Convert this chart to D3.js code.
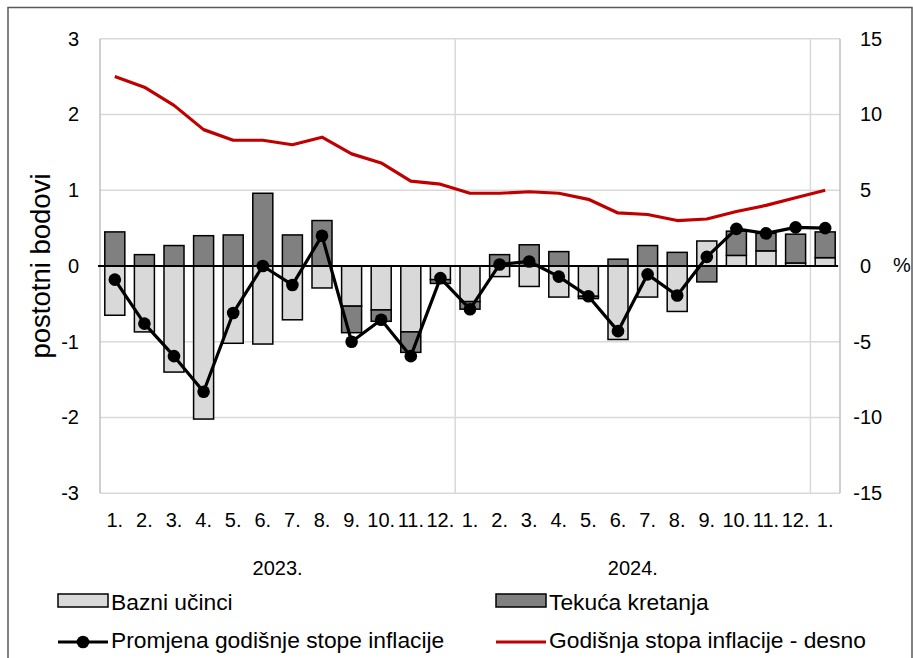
<!DOCTYPE html>
<html>
<head>
<meta charset="utf-8">
<script src="https://cdn.jsdelivr.net/npm/d3@7"></script>
<style>
  body { margin: 0; background: #fff; }
  text { font-family: "Liberation Sans", Arial, sans-serif; fill: #000; }
</style>
</head>
<body>
<div id="chart"></div>
<script>
// months (1.2023 - 1.2025)
var months = ["1.","2.","3.","4.","5.","6.","7.","8.","9.","10.","11.","12.",
              "1.","2.","3.","4.","5.","6.","7.","8.","9.","10.","11.","12.","1."];
var years = ["2023.", "2024."];

// postotni bodovi
var bazni = [-0.65, -0.87, -1.40, -2.02, -1.02, -1.03, -0.71, -0.29, -0.53, -0.58, -0.87, -0.18,
             -0.47, -0.14, -0.27, -0.41, -0.40, -0.97, -0.41, -0.60, 0.33, 0.14, 0.20, 0.04, 0.11];
var tekuca = [0.45, 0.15, 0.27, 0.40, 0.41, 0.96, 0.41, 0.60, -0.35, -0.15, -0.27, -0.05,
              -0.10, 0.15, 0.28, 0.19, -0.03, 0.09, 0.27, 0.18, -0.21, 0.32, 0.23, 0.38, 0.34];
var promjena = [-0.18, -0.76, -1.19, -1.66, -0.62, 0.00, -0.25, 0.40, -1.00, -0.71, -1.19, -0.16,
                -0.57, 0.02, 0.06, -0.14, -0.40, -0.86, -0.11, -0.39, 0.12, 0.49, 0.43, 0.51, 0.50];
// %, desno
var inflacija = [12.5, 11.8, 10.6, 9.0, 8.3, 8.3, 8.0, 8.5, 7.4, 6.8, 5.6, 5.4,
                 4.8, 4.8, 4.9, 4.8, 4.4, 3.5, 3.4, 3.0, 3.1, 3.6, 4.0, 4.5, 5.0];

var leftTicks = [-3, -2, -1, 0, 1, 2, 3];
var rightTicks = [-15, -10, -5, 0, 5, 10, 15];

var width = 913,
    height = 658;

var svg = d3.select("#chart").append("svg")
    .attr("width", width)
    .attr("height", height);

var plotLeft = 100, plotRight = 840, plotTop = 38.7, plotBottom = 493.3;

var x = d3.scaleBand()
    .domain(d3.range(months.length))
    .range([plotLeft, plotRight])
    .paddingInner(0.324)
    .paddingOuter(0.162);

var y = d3.scaleLinear().domain([-3, 3]).range([plotBottom, plotTop]);
var y2 = d3.scaleLinear().domain([-15, 15]).range([plotBottom, plotTop]);

// outer frame
svg.append("rect")
    .attr("x", 8).attr("y", 7.5)
    .attr("width", 904).attr("height", 700)
    .attr("fill", "none")
    .attr("stroke", "#595959")
    .attr("stroke-width", 1.5);

// gridlines
svg.append("g").selectAll("line")
    .data(leftTicks)
    .enter().append("line")
    .attr("x1", plotLeft).attr("x2", plotRight)
    .attr("y1", function(d) { return y(d); })
    .attr("y2", function(d) { return y(d); })
    .attr("stroke", "#d9d9d9")
    .attr("stroke-width", 1.5);

var step = x.step();
svg.append("g").selectAll("line")
    .data([0, 12, 24, 25])
    .enter().append("line")
    .attr("x1", function(d) { return plotLeft + d * step; })
    .attr("x2", function(d) { return plotLeft + d * step; })
    .attr("y1", plotTop).attr("y2", plotBottom)
    .attr("stroke", function(d) { return (d == 0 || d == 25) ? "#bfbfbf" : "#d9d9d9"; })
    .attr("stroke-width", 1.5);

// stacked bars
var rows = months.map(function(m, i) { return { i: i, bazni: bazni[i], tekuca: tekuca[i] }; });
var stack = d3.stack()
    .keys(["bazni", "tekuca"])
    .offset(d3.stackOffsetDiverging);
var series = stack(rows);
var fills = { bazni: "#d9d9d9", tekuca: "#808080" };

svg.append("g").selectAll("g")
    .data(series)
    .enter().append("g")
    .attr("fill", function(d) { return fills[d.key]; })
    .selectAll("rect")
    .data(function(d) { return d; })
    .enter().append("rect")
    .attr("x", function(d) { return x(d.data.i); })
    .attr("width", x.bandwidth())
    .attr("y", function(d) { return y(Math.max(d[0], d[1])); })
    .attr("height", function(d) { return Math.abs(y(d[0]) - y(d[1])); })
    .attr("stroke", "#000")
    .attr("stroke-width", 1.5);

// zero line
svg.append("line")
    .attr("x1", plotLeft - 2).attr("x2", plotRight - 2)
    .attr("y1", y(0)).attr("y2", y(0))
    .attr("stroke", "#000")
    .attr("stroke-width", 2.2);

// red line - annual inflation (right axis)
var redLine = d3.line()
    .x(function(d, i) { return x(i) + x.bandwidth() / 2; })
    .y(function(d) { return y2(d); });

svg.append("path")
    .datum(inflacija)
    .attr("d", redLine)
    .attr("fill", "none")
    .attr("stroke", "#c00000")
    .attr("stroke-width", 3.2)
    .attr("stroke-linejoin", "round");

// black line with markers
var blackLine = d3.line()
    .x(function(d, i) { return x(i) + x.bandwidth() / 2; })
    .y(function(d) { return y(d); });

svg.append("path")
    .datum(promjena)
    .attr("d", blackLine)
    .attr("fill", "none")
    .attr("stroke", "#000")
    .attr("stroke-width", 3.2)
    .attr("stroke-linejoin", "round");

svg.append("g").selectAll("circle")
    .data(promjena)
    .enter().append("circle")
    .attr("cx", function(d, i) { return x(i) + x.bandwidth() / 2; })
    .attr("cy", function(d) { return y(d); })
    .attr("r", 6.3)
    .attr("fill", "#000");

// left axis
var yAxis = d3.axisLeft(y)
    .tickValues(leftTicks)
    .tickSize(0)
    .tickPadding(21)
    .tickFormat(function(d) { return String(d); });

svg.append("g")
    .attr("transform", "translate(" + plotLeft + ",0)")
    .call(yAxis)
    .call(function(g) { g.select(".domain").remove(); })
    .selectAll("text")
    .style("font-family", "'Liberation Sans', Arial, sans-serif")
    .style("font-size", "20px")
    .attr("fill", "#000");

// right axis, digits aligned, minus hanging left
var y2Axis = d3.axisRight(y2)
    .tickValues(rightTicks)
    .tickSize(0)
    .tickPadding(20)
    .tickFormat(function(d) { return String(d); });

var rAxis = svg.append("g")
    .attr("transform", "translate(" + plotRight + ",0)")
    .call(y2Axis)
    .call(function(g) { g.select(".domain").remove(); });

rAxis.selectAll("text")
    .style("font-family", "'Liberation Sans', Arial, sans-serif")
    .style("font-size", "20px")
    .attr("fill", "#000");

var probe = rAxis.append("text")
    .style("font-family", "'Liberation Sans', Arial, sans-serif")
    .style("font-size", "20px")
    .text("-");
var minusW = probe.node().getComputedTextLength();
probe.remove();

rAxis.selectAll(".tick text")
    .attr("x", function(d) { return d < 0 ? 20 - minusW : 20; });

svg.append("text")
    .attr("x", 893)
    .attr("y", y(0))
    .attr("dy", "0.32em")
    .style("font-size", "20px")
    .text("%");

// x axis labels
var xAxis = d3.axisBottom(x)
    .tickSize(0)
    .tickPadding(0)
    .tickFormat(function(i) { return months[i]; });

svg.append("g")
    .attr("transform", "translate(0,513)")
    .call(xAxis)
    .call(function(g) { g.select(".domain").remove(); })
    .selectAll("text")
    .attr("dy", "0.71em")
    .style("font-family", "'Liberation Sans', Arial, sans-serif")
    .style("font-size", "20px")
    .attr("fill", "#000");

svg.append("g").selectAll("text")
    .data(years)
    .enter().append("text")
    .attr("x", function(d, i) { return plotLeft + (i * 12 + 6) * step; })
    .attr("y", 575)
    .attr("text-anchor", "middle")
    .style("font-size", "20px")
    .text(function(d) { return d; });

// y axis title
svg.append("text")
    .attr("transform", "translate(50," + y(0) + ") rotate(-90)")
    .attr("text-anchor", "middle")
    .style("font-size", "27.5px")
    .text("postotni bodovi");

// legend
var legend = svg.append("g");
var lgSize = "22.8px";

legend.append("rect")
    .attr("x", 58).attr("y", 594).attr("width", 50).attr("height", 13)
    .attr("fill", fills.bazni).attr("stroke", "#000").attr("stroke-width", 1.5);
legend.append("text")
    .attr("x", 111).attr("y", 610)
    .style("font-size", lgSize)
    .text("Bazni učinci");

legend.append("rect")
    .attr("x", 496).attr("y", 594).attr("width", 50).attr("height", 13)
    .attr("fill", fills.tekuca).attr("stroke", "#000").attr("stroke-width", 1.5);
legend.append("text")
    .attr("x", 549).attr("y", 610)
    .style("font-size", lgSize)
    .text("Tekuća kretanja");

legend.append("line")
    .attr("x1", 58).attr("x2", 108).attr("y1", 642).attr("y2", 642)
    .attr("stroke", "#000").attr("stroke-width", 3.2);
legend.append("circle")
    .attr("cx", 83).attr("cy", 642).attr("r", 6.3).attr("fill", "#000");
legend.append("text")
    .attr("x", 111).attr("y", 648)
    .style("font-size", lgSize)
    .text("Promjena godišnje stope inflacije");

legend.append("line")
    .attr("x1", 496).attr("x2", 546).attr("y1", 642).attr("y2", 642)
    .attr("stroke", "#c00000").attr("stroke-width", 3.2);
legend.append("text")
    .attr("x", 549).attr("y", 648)
    .style("font-size", lgSize)
    .text("Godišnja stopa inflacije - desno");
</script>
</body>
</html>
